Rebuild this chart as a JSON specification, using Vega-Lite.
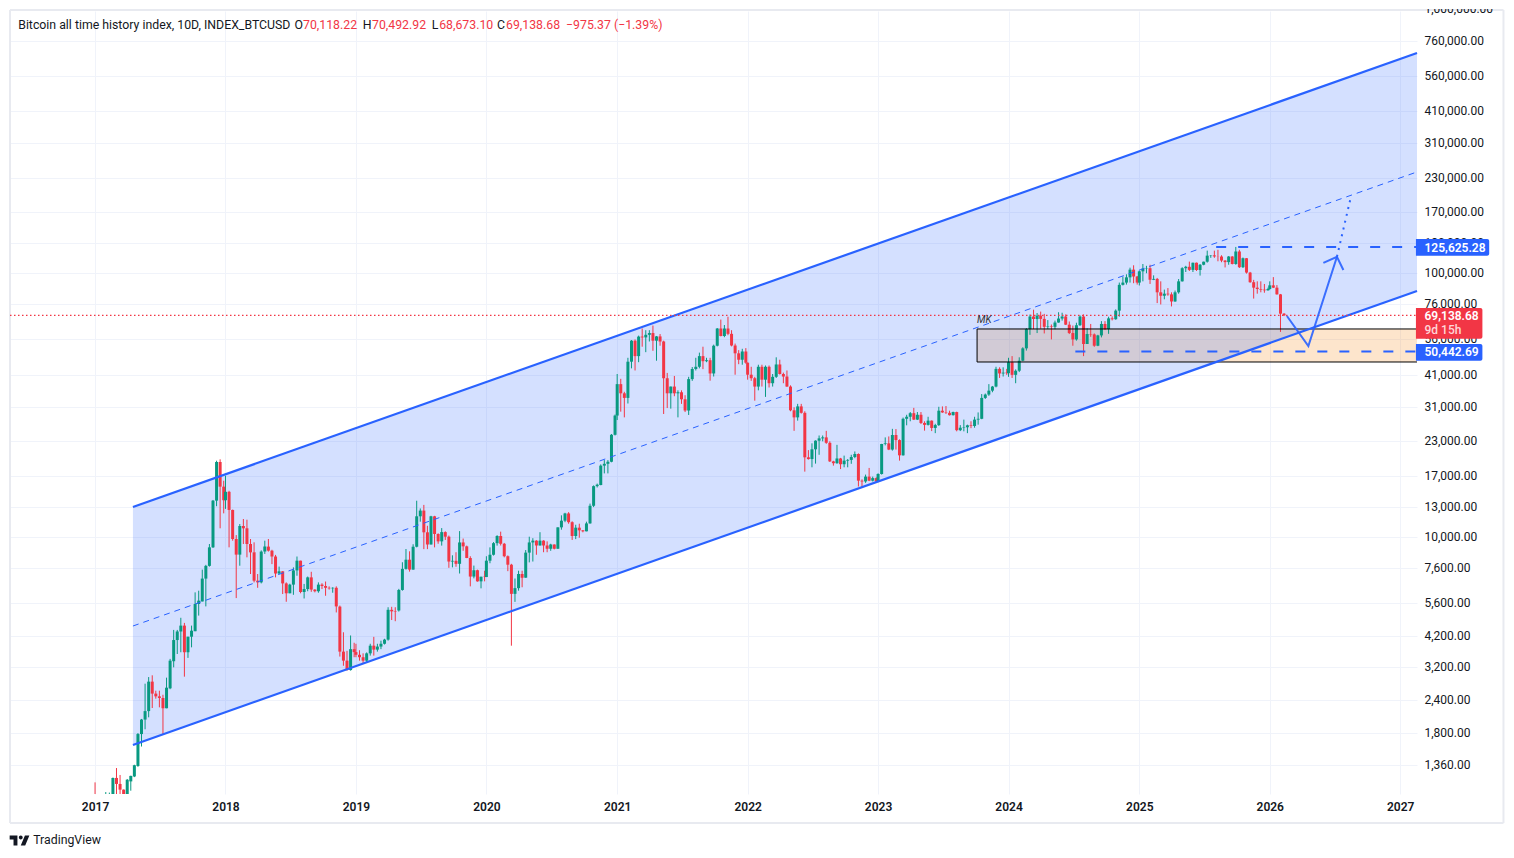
{
"$schema":"https://vega.github.io/schema/vega-lite/v6.json",
"autosize":{"type":"none"},
"width":1407,"height":783,
"padding":{"left":10,"top":11,"right":97,"bottom":64},
"background":"white",
"config":{"view":{"stroke":null},"font":"Roboto"},
"datasets":{
"candles":[
{"d":"2017-01-01","o":1000,"h":1170,"l":800,"c":900},
{"d":"2017-01-11","o":900,"h":980,"l":880,"c":920},
{"d":"2017-01-21","o":920,"h":1030,"l":900,"c":960},
{"d":"2017-01-31","o":1000,"h":1075,"l":950,"c":1030},
{"d":"2017-02-10","o":1000,"h":1070,"l":980,"c":1055},
{"d":"2017-02-20","o":1040,"h":1220,"l":1030,"c":1216},
{"d":"2017-03-02","o":1216,"h":1326,"l":1057,"c":1154},
{"d":"2017-03-12","o":1154,"h":1248,"l":1040,"c":1098},
{"d":"2017-03-22","o":1098,"h":1100,"l":1040,"c":1057},
{"d":"2017-04-01","o":1057,"h":1205,"l":1050,"c":1197},
{"d":"2017-04-11","o":1180,"h":1240,"l":1088,"c":1238},
{"d":"2017-04-21","o":1232,"h":1365,"l":1225,"c":1359},
{"d":"2017-05-01","o":1350,"h":1800,"l":1340,"c":1784},
{"d":"2017-05-11","o":1784,"h":2036,"l":1600,"c":2025},
{"d":"2017-05-21","o":2025,"h":2770,"l":1860,"c":2180},
{"d":"2017-05-31","o":2180,"h":2935,"l":2065,"c":2820},
{"d":"2017-06-10","o":2820,"h":2980,"l":2240,"c":2540},
{"d":"2017-06-20","o":2540,"h":2605,"l":2430,"c":2480},
{"d":"2017-06-30","o":2480,"h":2605,"l":2253,"c":2445},
{"d":"2017-07-10","o":2445,"h":2515,"l":1785,"c":2235},
{"d":"2017-07-20","o":2235,"h":2920,"l":2235,"c":2675},
{"d":"2017-07-30","o":2660,"h":3440,"l":2640,"c":3387},
{"d":"2017-08-09","o":3370,"h":4430,"l":3195,"c":4055},
{"d":"2017-08-19","o":4055,"h":4430,"l":3590,"c":4370},
{"d":"2017-08-29","o":4370,"h":4925,"l":3645,"c":4600},
{"d":"2017-09-08","o":4600,"h":4710,"l":2945,"c":3645},
{"d":"2017-09-18","o":3645,"h":4175,"l":3470,"c":4175},
{"d":"2017-09-28","o":4175,"h":4600,"l":3805,"c":4400},
{"d":"2017-10-08","o":4380,"h":6150,"l":4380,"c":5555},
{"d":"2017-10-18","o":5555,"h":6240,"l":5020,"c":5720},
{"d":"2017-10-28","o":5680,"h":7500,"l":5680,"c":6935},
{"d":"2017-11-07","o":6935,"h":7820,"l":5440,"c":7750},
{"d":"2017-11-17","o":7750,"h":9380,"l":7700,"c":9112},
{"d":"2017-11-27","o":9112,"h":13780,"l":9060,"c":13700},
{"d":"2017-12-07","o":13700,"h":19420,"l":13050,"c":19200},
{"d":"2017-12-17","o":19200,"h":19650,"l":10760,"c":15480},
{"d":"2017-12-27","o":15480,"h":16300,"l":12260,"c":13750},
{"d":"2018-01-01","o":13750,"h":17040,"l":12750,"c":14800},
{"d":"2018-01-11","o":14800,"h":14930,"l":9112,"c":12630},
{"d":"2018-01-21","o":12630,"h":12670,"l":9658,"c":9800},
{"d":"2018-01-31","o":9800,"h":10140,"l":5850,"c":8550},
{"d":"2018-02-10","o":8550,"h":11170,"l":7760,"c":10980},
{"d":"2018-02-20","o":10980,"h":11670,"l":9380,"c":10760},
{"d":"2018-03-02","o":10760,"h":11600,"l":8350,"c":9380},
{"d":"2018-03-12","o":9380,"h":9800,"l":7218,"c":8720},
{"d":"2018-03-22","o":8720,"h":9520,"l":6710,"c":6810},
{"d":"2018-04-01","o":6810,"h":7218,"l":6400,"c":6710},
{"d":"2018-04-11","o":6710,"h":8870,"l":6650,"c":8780},
{"d":"2018-04-21","o":8780,"h":9658,"l":8600,"c":9170},
{"d":"2018-05-01","o":9170,"h":9800,"l":8780,"c":8850},
{"d":"2018-05-11","o":8850,"h":8920,"l":7870,"c":8410},
{"d":"2018-05-21","o":8410,"h":8530,"l":7010,"c":7250},
{"d":"2018-05-31","o":7250,"h":7700,"l":7218,"c":7390},
{"d":"2018-06-10","o":7390,"h":7400,"l":6060,"c":6650},
{"d":"2018-06-20","o":6650,"h":6710,"l":5665,"c":6100},
{"d":"2018-06-30","o":6100,"h":6630,"l":6100,"c":6580},
{"d":"2018-07-10","o":6580,"h":7650,"l":6020,"c":7450},
{"d":"2018-07-20","o":7450,"h":8410,"l":7110,"c":8110},
{"d":"2018-07-30","o":8110,"h":8110,"l":6100,"c":6170},
{"d":"2018-08-09","o":6170,"h":6620,"l":5830,"c":6330},
{"d":"2018-08-19","o":6330,"h":7060,"l":6210,"c":7010},
{"d":"2018-08-29","o":7010,"h":7360,"l":6180,"c":6300},
{"d":"2018-09-08","o":6300,"h":6320,"l":6150,"c":6210},
{"d":"2018-09-18","o":6210,"h":6710,"l":6130,"c":6580},
{"d":"2018-09-28","o":6580,"h":6660,"l":6330,"c":6500},
{"d":"2018-10-08","o":6500,"h":6760,"l":5970,"c":6400},
{"d":"2018-10-18","o":6400,"h":6480,"l":6300,"c":6370},
{"d":"2018-10-28","o":6370,"h":6430,"l":6130,"c":6400},
{"d":"2018-11-07","o":6400,"h":6480,"l":5160,"c":5440},
{"d":"2018-11-17","o":5430,"h":5480,"l":3510,"c":3665},
{"d":"2018-11-27","o":3665,"h":4340,"l":3240,"c":3387},
{"d":"2018-12-07","o":3387,"h":3690,"l":3105,"c":3120},
{"d":"2018-12-17","o":3120,"h":4220,"l":3105,"c":3745},
{"d":"2018-12-27","o":3745,"h":3960,"l":3490,"c":3650},
{"d":"2019-01-01","o":3650,"h":3925,"l":3490,"c":3565},
{"d":"2019-01-11","o":3565,"h":3710,"l":3387,"c":3490},
{"d":"2019-01-21","o":3490,"h":3610,"l":3290,"c":3387},
{"d":"2019-01-31","o":3387,"h":3640,"l":3335,"c":3610},
{"d":"2019-02-10","o":3610,"h":3925,"l":3540,"c":3860},
{"d":"2019-02-20","o":3860,"h":4170,"l":3540,"c":3730},
{"d":"2019-03-02","o":3730,"h":3925,"l":3665,"c":3830},
{"d":"2019-03-12","o":3830,"h":4033,"l":3745,"c":3925},
{"d":"2019-03-22","o":3925,"h":4100,"l":3900,"c":4070},
{"d":"2019-04-01","o":4070,"h":5400,"l":4033,"c":5280},
{"d":"2019-04-11","o":5280,"h":5420,"l":4830,"c":5210},
{"d":"2019-04-21","o":5210,"h":5400,"l":4780,"c":5190},
{"d":"2019-05-01","o":5250,"h":6340,"l":5200,"c":6280},
{"d":"2019-05-11","o":6280,"h":8000,"l":6240,"c":7550},
{"d":"2019-05-21","o":7550,"h":8980,"l":7500,"c":8180},
{"d":"2019-05-31","o":8180,"h":8800,"l":7370,"c":7500},
{"d":"2019-06-10","o":7500,"h":9360,"l":7500,"c":9160},
{"d":"2019-06-20","o":9160,"h":13690,"l":9110,"c":11950},
{"d":"2019-06-30","o":11950,"h":12800,"l":11400,"c":12560},
{"d":"2019-07-10","o":12560,"h":13200,"l":8970,"c":10390},
{"d":"2019-07-20","o":10390,"h":11000,"l":8970,"c":9340},
{"d":"2019-07-30","o":9340,"h":12000,"l":9340,"c":11950},
{"d":"2019-08-09","o":11950,"h":12000,"l":9110,"c":10240},
{"d":"2019-08-19","o":10240,"h":10300,"l":9400,"c":9600},
{"d":"2019-08-29","o":9600,"h":10780,"l":9250,"c":10410},
{"d":"2019-09-08","o":10410,"h":10480,"l":9720,"c":10000},
{"d":"2019-09-18","o":10000,"h":10100,"l":7620,"c":8050},
{"d":"2019-09-28","o":8050,"h":8500,"l":7650,"c":8100},
{"d":"2019-10-08","o":8100,"h":8730,"l":7690,"c":7890},
{"d":"2019-10-18","o":7890,"h":10500,"l":7250,"c":9510},
{"d":"2019-10-28","o":9510,"h":9840,"l":8840,"c":9190},
{"d":"2019-11-07","o":9190,"h":9250,"l":8290,"c":8300},
{"d":"2019-11-17","o":8300,"h":8430,"l":6480,"c":7060},
{"d":"2019-11-27","o":7060,"h":7770,"l":6950,"c":7460},
{"d":"2019-12-07","o":7460,"h":7500,"l":6750,"c":6770},
{"d":"2019-12-17","o":6770,"h":7050,"l":6370,"c":7050},
{"d":"2019-12-27","o":7050,"h":7430,"l":6770,"c":7030},
{"d":"2020-01-01","o":7030,"h":8430,"l":7030,"c":8110},
{"d":"2020-01-11","o":8110,"h":9110,"l":7930,"c":8540},
{"d":"2020-01-21","o":8540,"h":9540,"l":8480,"c":9450},
{"d":"2020-01-31","o":9450,"h":10130,"l":9250,"c":10060},
{"d":"2020-02-10","o":10060,"h":10450,"l":9260,"c":9400},
{"d":"2020-02-20","o":9400,"h":9470,"l":8350,"c":8430},
{"d":"2020-03-01","o":8430,"h":8490,"l":7400,"c":7830},
{"d":"2020-03-11","o":7830,"h":7890,"l":3860,"c":6070},
{"d":"2020-03-21","o":6070,"h":6940,"l":5660,"c":6380},
{"d":"2020-03-31","o":6380,"h":7430,"l":6240,"c":7220},
{"d":"2020-04-10","o":7220,"h":7430,"l":6430,"c":6990},
{"d":"2020-04-20","o":6990,"h":8900,"l":6990,"c":8700},
{"d":"2020-04-30","o":8700,"h":10000,"l":7990,"c":9510},
{"d":"2020-05-10","o":9510,"h":9870,"l":8050,"c":9660},
{"d":"2020-05-20","o":9660,"h":9700,"l":8540,"c":9260},
{"d":"2020-05-30","o":9260,"h":10400,"l":9260,"c":9660},
{"d":"2020-06-09","o":9660,"h":9700,"l":8730,"c":9260},
{"d":"2020-06-19","o":9260,"h":9600,"l":8730,"c":9000},
{"d":"2020-06-29","o":9000,"h":9400,"l":8840,"c":9340},
{"d":"2020-07-09","o":9340,"h":9350,"l":8950,"c":9000},
{"d":"2020-07-19","o":9000,"h":10850,"l":9000,"c":10850},
{"d":"2020-07-29","o":10850,"h":12050,"l":10630,"c":11500},
{"d":"2020-08-08","o":11500,"h":12320,"l":11350,"c":12250},
{"d":"2020-08-18","o":12250,"h":12390,"l":11200,"c":11350},
{"d":"2020-08-28","o":11350,"h":11440,"l":9720,"c":10060},
{"d":"2020-09-07","o":10060,"h":11100,"l":9790,"c":10820},
{"d":"2020-09-17","o":10820,"h":11200,"l":9910,"c":10570},
{"d":"2020-09-27","o":10570,"h":10600,"l":10390,"c":10480},
{"d":"2020-10-07","o":10480,"h":11400,"l":10480,"c":11230},
{"d":"2020-10-17","o":11230,"h":13350,"l":11200,"c":13100},
{"d":"2020-10-27","o":13100,"h":15650,"l":12950,"c":15550},
{"d":"2020-11-06","o":15550,"h":15900,"l":15370,"c":15750},
{"d":"2020-11-16","o":15700,"h":18800,"l":15670,"c":18600},
{"d":"2020-11-26","o":18600,"h":19520,"l":17380,"c":18900},
{"d":"2020-12-06","o":18900,"h":19520,"l":17380,"c":19240},
{"d":"2020-12-16","o":19240,"h":24520,"l":19150,"c":24350},
{"d":"2020-12-26","o":24350,"h":29050,"l":24200,"c":28800},
{"d":"2021-01-01","o":28800,"h":41400,"l":27700,"c":37900},
{"d":"2021-01-11","o":37900,"h":39700,"l":29800,"c":34980},
{"d":"2021-01-21","o":34980,"h":35450,"l":28350,"c":33600},
{"d":"2021-01-31","o":33600,"h":47700,"l":32000,"c":46100},
{"d":"2021-02-10","o":46100,"h":55700,"l":43500,"c":55390},
{"d":"2021-02-20","o":55390,"h":56000,"l":42700,"c":48400},
{"d":"2021-03-02","o":48400,"h":57900,"l":45900,"c":57400},
{"d":"2021-03-12","o":57400,"h":61600,"l":52550,"c":57000},
{"d":"2021-03-22","o":57000,"h":60700,"l":50100,"c":58300},
{"d":"2021-04-01","o":58300,"h":60700,"l":55000,"c":59200},
{"d":"2021-04-11","o":59200,"h":63200,"l":50700,"c":55390},
{"d":"2021-04-21","o":55390,"h":57700,"l":46500,"c":57500},
{"d":"2021-05-01","o":57500,"h":58700,"l":53000,"c":55000},
{"d":"2021-05-11","o":55000,"h":55390,"l":29200,"c":39900},
{"d":"2021-05-21","o":39900,"h":41800,"l":30750,"c":34980},
{"d":"2021-05-31","o":34980,"h":37100,"l":30600,"c":37100},
{"d":"2021-06-10","o":37100,"h":40700,"l":34100,"c":34980},
{"d":"2021-06-20","o":34980,"h":35900,"l":28350,"c":35300},
{"d":"2021-06-30","o":35300,"h":35900,"l":31900,"c":33200},
{"d":"2021-07-10","o":33200,"h":34400,"l":29700,"c":30100},
{"d":"2021-07-20","o":30100,"h":40400,"l":28950,"c":39600},
{"d":"2021-07-30","o":39600,"h":44000,"l":39000,"c":43250},
{"d":"2021-08-09","o":43250,"h":47700,"l":42700,"c":44100},
{"d":"2021-08-19","o":44100,"h":49900,"l":43500,"c":48400},
{"d":"2021-08-29","o":48400,"h":52550,"l":43200,"c":46300},
{"d":"2021-09-08","o":46300,"h":47700,"l":45900,"c":46700},
{"d":"2021-09-18","o":46700,"h":47700,"l":39060,"c":41600},
{"d":"2021-09-28","o":41600,"h":53500,"l":40500,"c":53000},
{"d":"2021-10-08","o":53000,"h":61850,"l":52700,"c":61600},
{"d":"2021-10-18","o":61600,"h":66600,"l":57500,"c":57700},
{"d":"2021-10-28","o":57700,"h":63500,"l":57100,"c":61600},
{"d":"2021-11-07","o":61600,"h":68300,"l":58100,"c":58800},
{"d":"2021-11-17","o":58800,"h":60700,"l":52700,"c":53100},
{"d":"2021-11-27","o":53100,"h":54000,"l":41150,"c":49600},
{"d":"2021-12-07","o":49600,"h":51000,"l":45100,"c":46900},
{"d":"2021-12-17","o":46900,"h":51600,"l":44900,"c":50400},
{"d":"2021-12-27","o":50400,"h":51900,"l":45300,"c":45700},
{"d":"2022-01-01","o":45700,"h":45800,"l":39400,"c":41150},
{"d":"2022-01-11","o":41150,"h":44100,"l":39000,"c":39900},
{"d":"2022-01-21","o":39900,"h":40400,"l":32800,"c":37100},
{"d":"2022-01-31","o":37100,"h":44900,"l":35900,"c":44100},
{"d":"2022-02-10","o":44100,"h":44900,"l":37100,"c":39400},
{"d":"2022-02-20","o":39400,"h":44600,"l":33900,"c":44100},
{"d":"2022-03-02","o":44100,"h":44600,"l":36800,"c":38200},
{"d":"2022-03-12","o":38200,"h":41400,"l":37100,"c":40400},
{"d":"2022-03-22","o":40400,"h":47900,"l":40000,"c":45000},
{"d":"2022-04-01","o":45000,"h":46900,"l":41200,"c":41400},
{"d":"2022-04-11","o":41400,"h":41900,"l":38200,"c":40500},
{"d":"2022-04-21","o":40500,"h":42700,"l":37000,"c":37100},
{"d":"2022-05-01","o":37100,"h":37500,"l":29900,"c":30150},
{"d":"2022-05-11","o":30150,"h":30950,"l":25200,"c":28350},
{"d":"2022-05-21","o":28350,"h":31900,"l":27550,"c":31200},
{"d":"2022-05-31","o":31200,"h":31900,"l":29300,"c":29500},
{"d":"2022-06-10","o":29500,"h":29900,"l":17650,"c":20000},
{"d":"2022-06-20","o":20000,"h":21300,"l":19600,"c":19700},
{"d":"2022-06-30","o":19700,"h":22600,"l":18330,"c":21450},
{"d":"2022-07-10","o":21450,"h":23200,"l":18930,"c":23130},
{"d":"2022-07-20","o":23130,"h":24200,"l":20450,"c":23600},
{"d":"2022-07-30","o":23600,"h":24200,"l":23000,"c":23800},
{"d":"2022-08-09","o":23800,"h":25200,"l":22500,"c":22700},
{"d":"2022-08-19","o":22700,"h":23000,"l":19200,"c":19300},
{"d":"2022-08-29","o":19300,"h":19400,"l":18600,"c":19000},
{"d":"2022-09-08","o":19000,"h":22300,"l":18900,"c":19800},
{"d":"2022-09-18","o":19800,"h":19900,"l":18050,"c":18830},
{"d":"2022-09-28","o":18830,"h":20300,"l":18330,"c":19430},
{"d":"2022-10-08","o":19430,"h":19700,"l":18330,"c":19550},
{"d":"2022-10-18","o":19550,"h":20450,"l":18900,"c":20050},
{"d":"2022-10-28","o":20050,"h":21050,"l":19850,"c":20590},
{"d":"2022-11-07","o":20590,"h":20700,"l":15500,"c":16310},
{"d":"2022-11-17","o":16310,"h":16500,"l":15390,"c":16200},
{"d":"2022-11-27","o":16200,"h":17200,"l":16000,"c":16900},
{"d":"2022-12-07","o":16900,"h":18230,"l":16250,"c":16310},
{"d":"2022-12-17","o":16310,"h":16900,"l":16200,"c":16680},
{"d":"2022-12-27","o":16680,"h":16800,"l":16100,"c":16200},
{"d":"2023-01-01","o":16200,"h":17400,"l":16100,"c":17290},
{"d":"2023-01-11","o":17290,"h":22500,"l":17200,"c":22470},
{"d":"2023-01-21","o":22470,"h":23800,"l":22200,"c":22600},
{"d":"2023-01-31","o":22600,"h":24000,"l":21300,"c":21400},
{"d":"2023-02-10","o":21400,"h":25650,"l":21200,"c":24300},
{"d":"2023-02-20","o":24300,"h":25600,"l":21400,"c":23250},
{"d":"2023-03-02","o":23250,"h":23400,"l":19430,"c":20350},
{"d":"2023-03-12","o":20350,"h":28300,"l":20300,"c":28000},
{"d":"2023-03-22","o":28000,"h":29000,"l":26450,"c":28500},
{"d":"2023-04-01","o":28500,"h":29700,"l":27400,"c":29400},
{"d":"2023-04-11","o":29400,"h":30800,"l":27700,"c":27800},
{"d":"2023-04-21","o":27800,"h":29700,"l":27700,"c":29000},
{"d":"2023-05-01","o":29000,"h":29700,"l":26750,"c":27000},
{"d":"2023-05-11","o":27000,"h":27400,"l":25250,"c":26550},
{"d":"2023-05-21","o":26550,"h":28500,"l":26400,"c":27550},
{"d":"2023-05-31","o":27550,"h":27600,"l":25150,"c":25850},
{"d":"2023-06-10","o":25850,"h":26800,"l":24700,"c":26500},
{"d":"2023-06-20","o":26500,"h":31100,"l":26300,"c":30050},
{"d":"2023-06-30","o":30050,"h":31200,"l":29500,"c":29600},
{"d":"2023-07-10","o":29600,"h":31300,"l":29200,"c":29500},
{"d":"2023-07-20","o":29500,"h":30050,"l":28800,"c":28900},
{"d":"2023-07-30","o":28900,"h":29800,"l":28800,"c":29700},
{"d":"2023-08-09","o":29700,"h":29800,"l":25100,"c":25350},
{"d":"2023-08-19","o":25350,"h":26500,"l":25150,"c":25900},
{"d":"2023-08-29","o":25900,"h":27800,"l":25100,"c":26000},
{"d":"2023-09-08","o":26000,"h":26600,"l":24700,"c":26450},
{"d":"2023-09-18","o":26450,"h":27400,"l":25800,"c":26300},
{"d":"2023-09-28","o":26300,"h":28500,"l":25900,"c":27800},
{"d":"2023-10-08","o":27800,"h":29600,"l":26600,"c":28000},
{"d":"2023-10-18","o":28000,"h":34750,"l":27900,"c":33600},
{"d":"2023-10-28","o":33600,"h":34900,"l":33300,"c":34600},
{"d":"2023-11-07","o":34600,"h":37900,"l":34200,"c":35800},
{"d":"2023-11-17","o":35800,"h":37300,"l":35300,"c":37100},
{"d":"2023-11-27","o":37100,"h":44100,"l":36850,"c":43300},
{"d":"2023-12-07","o":43300,"h":43900,"l":40000,"c":41600},
{"d":"2023-12-17","o":41600,"h":43900,"l":40500,"c":41900},
{"d":"2023-12-27","o":41900,"h":43300,"l":41100,"c":41700},
{"d":"2024-01-01","o":41700,"h":47700,"l":40400,"c":45900},
{"d":"2024-01-11","o":45900,"h":48400,"l":40000,"c":41100},
{"d":"2024-01-21","o":41100,"h":43100,"l":38200,"c":42600},
{"d":"2024-01-31","o":42600,"h":47900,"l":42100,"c":46500},
{"d":"2024-02-10","o":46500,"h":52300,"l":46300,"c":51800},
{"d":"2024-02-20","o":51800,"h":61800,"l":50800,"c":61300},
{"d":"2024-03-01","o":61300,"h":69600,"l":58300,"c":68400},
{"d":"2024-03-11","o":68400,"h":72600,"l":61300,"c":66900},
{"d":"2024-03-21","o":66900,"h":70500,"l":59200,"c":68900},
{"d":"2024-03-31","o":68900,"h":71400,"l":61500,"c":67000},
{"d":"2024-04-10","o":67000,"h":70000,"l":59000,"c":62500},
{"d":"2024-04-20","o":62500,"h":66300,"l":61300,"c":62800},
{"d":"2024-04-30","o":62800,"h":63800,"l":56000,"c":62500},
{"d":"2024-05-10","o":62500,"h":66000,"l":61200,"c":64900},
{"d":"2024-05-20","o":64900,"h":71000,"l":64800,"c":67200},
{"d":"2024-05-30","o":67200,"h":70700,"l":66000,"c":68400},
{"d":"2024-06-09","o":68400,"h":69700,"l":63500,"c":63700},
{"d":"2024-06-19","o":63700,"h":65500,"l":58700,"c":59200},
{"d":"2024-06-29","o":59200,"h":63200,"l":53000,"c":56000},
{"d":"2024-07-09","o":56000,"h":64800,"l":55400,"c":63400},
{"d":"2024-07-19","o":63400,"h":69100,"l":63000,"c":68400},
{"d":"2024-07-29","o":68400,"h":69700,"l":48400,"c":53800},
{"d":"2024-08-08","o":53800,"h":61700,"l":53800,"c":58700},
{"d":"2024-08-18","o":58700,"h":64100,"l":57300,"c":58500},
{"d":"2024-08-28","o":58500,"h":59000,"l":52500,"c":53000},
{"d":"2024-09-07","o":53000,"h":58300,"l":52800,"c":58000},
{"d":"2024-09-17","o":58000,"h":65700,"l":57000,"c":64100},
{"d":"2024-09-27","o":64100,"h":65700,"l":60800,"c":61300},
{"d":"2024-10-07","o":61300,"h":68300,"l":58800,"c":67300},
{"d":"2024-10-17","o":67300,"h":68500,"l":66100,"c":66800},
{"d":"2024-10-27","o":66800,"h":72800,"l":66500,"c":72000},
{"d":"2024-11-06","o":72000,"h":92000,"l":68300,"c":90200},
{"d":"2024-11-16","o":90200,"h":97000,"l":89700,"c":92000},
{"d":"2024-11-26","o":92000,"h":98900,"l":90400,"c":96300},
{"d":"2024-12-06","o":96300,"h":104800,"l":92000,"c":103000},
{"d":"2024-12-16","o":103000,"h":107000,"l":91500,"c":97000},
{"d":"2024-12-26","o":97000,"h":97500,"l":90400,"c":92000},
{"d":"2025-01-01","o":92000,"h":102000,"l":89700,"c":101500},
{"d":"2025-01-11","o":101500,"h":108200,"l":93000,"c":104000},
{"d":"2025-01-21","o":104000,"h":106500,"l":99800,"c":104300},
{"d":"2025-01-31","o":104300,"h":107500,"l":90900,"c":94300},
{"d":"2025-02-10","o":94300,"h":98000,"l":94000,"c":95000},
{"d":"2025-02-20","o":95000,"h":95800,"l":76900,"c":84500},
{"d":"2025-03-02","o":84500,"h":93000,"l":76000,"c":82000},
{"d":"2025-03-12","o":82000,"h":86500,"l":79500,"c":83500},
{"d":"2025-03-22","o":83500,"h":87700,"l":82000,"c":83000},
{"d":"2025-04-01","o":83000,"h":84500,"l":74700,"c":78000},
{"d":"2025-04-11","o":78000,"h":85800,"l":77800,"c":84500},
{"d":"2025-04-21","o":84500,"h":94900,"l":83500,"c":93000},
{"d":"2025-05-01","o":93000,"h":105200,"l":92800,"c":104300},
{"d":"2025-05-11","o":104300,"h":106500,"l":100900,"c":105600},
{"d":"2025-05-21","o":105600,"h":110500,"l":101800,"c":102800},
{"d":"2025-05-31","o":102800,"h":109500,"l":100900,"c":109400},
{"d":"2025-06-10","o":109400,"h":109600,"l":101800,"c":102700},
{"d":"2025-06-20","o":102700,"h":108200,"l":97800,"c":107500},
{"d":"2025-06-30","o":107500,"h":110500,"l":107000,"c":110400},
{"d":"2025-07-10","o":110400,"h":121600,"l":109500,"c":116400},
{"d":"2025-07-20","o":116400,"h":117000,"l":114200,"c":116700},
{"d":"2025-07-30","o":116700,"h":121600,"l":114200,"c":115600},
{"d":"2025-08-09","o":115600,"h":122500,"l":110800,"c":115500},
{"d":"2025-08-19","o":115500,"h":116800,"l":109900,"c":111500},
{"d":"2025-08-29","o":111500,"h":112000,"l":105000,"c":110000},
{"d":"2025-09-08","o":110000,"h":116000,"l":107500,"c":115500},
{"d":"2025-09-18","o":115500,"h":116000,"l":107800,"c":108200},
{"d":"2025-09-28","o":108200,"h":125600,"l":107500,"c":120700},
{"d":"2025-10-08","o":120700,"h":122500,"l":104500,"c":105200},
{"d":"2025-10-18","o":105200,"h":114500,"l":104500,"c":113800},
{"d":"2025-10-28","o":113800,"h":114000,"l":99500,"c":100400},
{"d":"2025-11-07","o":100400,"h":101000,"l":91800,"c":92300},
{"d":"2025-11-17","o":92300,"h":94200,"l":80000,"c":88000},
{"d":"2025-11-27","o":88000,"h":93000,"l":83500,"c":87000},
{"d":"2025-12-07","o":87000,"h":93000,"l":84500,"c":86500},
{"d":"2025-12-17","o":86500,"h":90900,"l":84200,"c":86000},
{"d":"2025-12-27","o":86000,"h":88000,"l":85700,"c":87000},
{"d":"2026-01-01","o":87000,"h":93000,"l":86500,"c":89800},
{"d":"2026-01-11","o":89800,"h":96500,"l":87700,"c":88000},
{"d":"2026-01-21","o":88000,"h":90000,"l":82800,"c":83000},
{"d":"2026-01-31","o":83000,"h":83300,"l":59800,"c":70118},
{"d":"2026-02-10","o":70118.22,"h":70492.92,"l":68673.1,"c":69138.68}
],
"channel":[
{"d":"2017-04-17","top":12960,"mid":4584,"bottom":1622},
{"d":"2027-02-17","top":683000,"mid":241800,"bottom":85500}
],
"path":[
{"p":"a","s":1,"d":"2026-02-18","v":68710},
{"p":"a","s":2,"d":"2026-04-19","v":52880},
{"p":"a","s":3,"d":"2026-07-08","v":115300},
{"p":"b","s":1,"d":"2026-05-31","v":109200},
{"p":"b","s":2,"d":"2026-07-08","v":115300},
{"p":"b","s":3,"d":"2026-07-26","v":102700}
],
"frame":[
{"a":"2016-05-08","b":"2016-05-08","y":994800,"y2":820},
{"a":"2027-10-17","b":"2027-10-17","y":994800,"y2":820},
{"a":"2016-05-08","b":"2027-10-17","y":994800,"y2":994800},
{"a":"2016-05-08","b":"2027-10-17","y":820,"y2":820}
]
},
"layer":[
{"data":{"name":"frame"},"mark":{"type":"rule","stroke":"#E8EAF0","strokeWidth":2},
 "encoding":{
  "x":{"field":"a","type":"temporal","scale":{"domain":["2016-05-08","2027-02-17"],"nice":false,"padding":0},"title":null,
   "axis":{"orient":"bottom","tickCount":{"interval":"year","step":1},"format":"%Y","grid":true,"gridColor":"#F0F3FA","gridWidth":1,"domain":false,"ticks":false,"labelPadding":7,"labelFontSize":12,"labelFontWeight":600,"labelColor":"#131722","labelFont":"Roboto","labelFlush":false,"labelOverlap":false}},
  "x2":{"field":"b"},
  "y":{"field":"y","type":"quantitative","title":null,
   "scale":{"type":"log","domain":[1057,985900],"nice":false},
   "axis":{"orient":"right","values":[1360,1800,2400,3200,4200,5600,7600,10000,13000,17000,23000,31000,41000,56000,76000,100000,130000,170000,230000,310000,410000,560000,760000],"format":",.2f","grid":true,"gridColor":"#F0F3FA","gridWidth":1,"domain":false,"ticks":false,"labelPadding":7,"labelOffset":-0.5,"labelFontSize":12,"labelColor":"#131722","labelFont":"Roboto"}},
  "y2":{"field":"y2"}
 }},
{"data":{"values":[{"d":"2023-10-05","d2":"2027-02-17","hi":61350,"lo":45980}]},
 "mark":{"type":"rect","fill":"#F57C00","opacity":0.2},
 "encoding":{"x":{"field":"d","type":"temporal"},"x2":{"field":"d2"},"y":{"field":"hi","type":"quantitative"},"y2":{"field":"lo"}}},
{"data":{"name":"channel"},"mark":{"type":"area","color":"#2962FF","opacity":0.2},
 "encoding":{"x":{"field":"d","type":"temporal"},"y":{"field":"top","type":"quantitative"},"y2":{"field":"bottom"}}},
{"data":{"name":"candles"},"mark":{"type":"rule","strokeWidth":1,"clip":true},
 "encoding":{"x":{"field":"d","type":"temporal"},"y":{"field":"l","type":"quantitative"},"y2":{"field":"h"},
  "color":{"condition":{"test":"datum.c >= datum.o","value":"#089981"},"value":"#F23645"}}},
{"data":{"name":"candles"},"mark":{"type":"bar","size":3,"clip":true},
 "encoding":{"x":{"field":"d","type":"temporal"},"y":{"field":"o","type":"quantitative"},"y2":{"field":"c"},
  "color":{"condition":{"test":"datum.c >= datum.o","value":"#089981"},"value":"#F23645"}}},
{"data":{"values":[{"d":"2023-10-05","d2":"2027-02-17","v":61350},{"d":"2023-10-05","d2":"2027-02-17","v":45980}]},
 "mark":{"type":"rule","stroke":"#000000","strokeWidth":1},
 "encoding":{"x":{"field":"d","type":"temporal"},"x2":{"field":"d2"},"y":{"field":"v","type":"quantitative"}}},
{"data":{"values":[{"d":"2023-10-05","hi":61350,"lo":45980}]},
 "mark":{"type":"rule","stroke":"#000000","strokeWidth":1},
 "encoding":{"x":{"field":"d","type":"temporal"},"y":{"field":"hi","type":"quantitative"},"y2":{"field":"lo"}}},
{"data":{"name":"channel"},"mark":{"type":"line","stroke":"#2962FF","strokeWidth":2.2},
 "encoding":{"x":{"field":"d","type":"temporal"},"y":{"field":"top","type":"quantitative"}}},
{"data":{"name":"channel"},"mark":{"type":"line","stroke":"#2962FF","strokeWidth":2.2},
 "encoding":{"x":{"field":"d","type":"temporal"},"y":{"field":"bottom","type":"quantitative"}}},
{"data":{"name":"channel"},"mark":{"type":"line","stroke":"#2962FF","strokeWidth":1,"strokeDash":[6,5]},
 "encoding":{"x":{"field":"d","type":"temporal"},"y":{"field":"mid","type":"quantitative"}}},
{"data":{"values":[{"d":"2016-05-08","d2":"2027-02-17","v":69138.68}]},
 "mark":{"type":"rule","color":"#F23645","strokeWidth":1.2,"strokeDash":[1.5,2.5]},
 "encoding":{"x":{"field":"d","type":"temporal"},"x2":{"field":"d2"},"y":{"field":"v","type":"quantitative"}}},
{"data":{"values":[{"d":"2025-08-04","d2":"2027-02-17","v":125625.28},{"d":"2024-07-06","d2":"2027-02-17","v":50442.69}]},
 "mark":{"type":"rule","stroke":"#2962FF","strokeWidth":2,"strokeDash":[10,12]},
 "encoding":{"x":{"field":"d","type":"temporal"},"x2":{"field":"d2"},"y":{"field":"v","type":"quantitative"}}},
{"data":{"name":"path"},"mark":{"type":"line","stroke":"#2962FF","strokeWidth":2,"opacity":0.9},
 "encoding":{"x":{"field":"d","type":"temporal"},"y":{"field":"v","type":"quantitative"},"detail":{"field":"p"},"order":{"field":"s"}}},
{"data":{"values":[{"d":"2026-07-08","v":115300},{"d":"2026-08-14","v":189300}]},
 "mark":{"type":"line","stroke":"#2962FF","strokeWidth":2,"strokeDash":[2,5]},
 "encoding":{"x":{"field":"d","type":"temporal"},"y":{"field":"v","type":"quantitative"}}},
{"data":{"values":[
  {"kind":"blue","d":"2027-02-14","d2":"2027-09-07","hi":134600,"lo":116400},
  {"kind":"red","d":"2027-02-14","d2":"2027-08-19","hi":73690,"lo":56360},
  {"kind":"blue","d":"2027-02-14","d2":"2027-08-19","hi":53810,"lo":46510}]},
 "mark":{"type":"rect","cornerRadiusTopRight":2,"cornerRadiusBottomRight":2},
 "encoding":{"x":{"field":"d","type":"temporal"},"x2":{"field":"d2"},"y":{"field":"hi","type":"quantitative"},"y2":{"field":"lo"},
  "color":{"field":"kind","type":"nominal","legend":null,"scale":{"domain":["blue","red"],"range":["#2962FF","#F23645"]}}}},
{"data":{"values":[
  {"t":"125,625.28","d":"2027-03-10","v":125625.28},
  {"t":"69,138.68","d":"2027-03-10","v":69138.68},
  {"t":"50,442.69","d":"2027-03-10","v":50442.69}]},
 "mark":{"type":"text","align":"left","baseline":"middle","fontSize":12,"fontWeight":600,"color":"#FFFFFF","dy":0.7},
 "encoding":{"x":{"field":"d","type":"temporal"},"y":{"field":"v","type":"quantitative"},"text":{"field":"t"}}},
{"data":{"values":[{"t":"9d 15h","d":"2027-03-10","v":60800}]},
 "mark":{"type":"text","align":"left","baseline":"middle","fontSize":12,"fontWeight":500,"color":"#FFD5D8"},
 "encoding":{"x":{"field":"d","type":"temporal"},"y":{"field":"v","type":"quantitative"},"text":{"field":"t"}}},
{"data":{"values":[{"t":"1,000,000.00","d":"2027-03-10","v":1000000}]},
 "mark":{"type":"text","align":"left","baseline":"middle","fontSize":12,"color":"#131722"},
 "encoding":{"x":{"field":"d","type":"temporal"},"y":{"field":"v","type":"quantitative"},"text":{"field":"t"}}},
{"data":{"values":[{"d":"2027-02-17","d2":"2027-11-05","hi":1090000,"lo":1004000}]},
 "mark":{"type":"rect","fill":"#FFFFFF"},
 "encoding":{"x":{"field":"d","type":"temporal"},"x2":{"field":"d2"},"y":{"field":"hi","type":"quantitative"},"y2":{"field":"lo"}}},
{"data":{"values":[{"t":"MK","d":"2023-10-05","v":66300}]},
 "mark":{"type":"text","align":"left","baseline":"middle","fontSize":10,"fontStyle":"italic","color":"#333333"},
 "encoding":{"x":{"field":"d","type":"temporal"},"y":{"field":"v","type":"quantitative"},"text":{"field":"t"}}},
{"data":{"values":[
  {"t":"Bitcoin all time history index, 10D, INDEX_BTCUSD","d":"2016-05-31","v":876000,"kind":"name"},
  {"t":"O","d":"2018-07-13","v":876000,"kind":"name"},
  {"t":"70,118.22","d":"2018-08-06","v":876000,"kind":"value"},
  {"t":"H","d":"2019-01-20","v":876000,"kind":"name"},
  {"t":"70,492.92","d":"2019-02-15","v":876000,"kind":"value"},
  {"t":"L","d":"2019-08-01","v":876000,"kind":"name"},
  {"t":"68,673.10","d":"2019-08-22","v":876000,"kind":"value"},
  {"t":"C","d":"2020-01-31","v":876000,"kind":"name"},
  {"t":"69,138.68","d":"2020-02-25","v":876000,"kind":"value"},
  {"t":"−975.37 (−1.39%)","d":"2020-08-11","v":876000,"kind":"value"},
  {"t":"TradingView","d":"2016-07-12","v":705,"kind":"name"}]},
 "mark":{"type":"text","align":"left","baseline":"middle","fontSize":12.3},
 "encoding":{"x":{"field":"d","type":"temporal"},"y":{"field":"v","type":"quantitative"},"text":{"field":"t"},
  "color":{"field":"kind","type":"nominal","legend":null,"scale":{"domain":["name","value"],"range":["#131722","#F23645"]}}}},
{"data":{"values":[{"d":"2016-06-04","v":704}]},
 "mark":{"type":"point","filled":true,"opacity":1,"color":"#131722","size":1600,
  "shape":"M-.111 .25H-.306V-.0556H-.5V-.25H-.111ZM.278 .25H.056L.264 -.25H.486ZM.153 -.153A.097 .097 0 1 1 -.041 -.153A.097 .097 0 1 1 .153 -.153Z"},
 "encoding":{"x":{"field":"d","type":"temporal"},"y":{"field":"v","type":"quantitative"}}}
],
"resolve":{"scale":{"color":"independent"}}
}
